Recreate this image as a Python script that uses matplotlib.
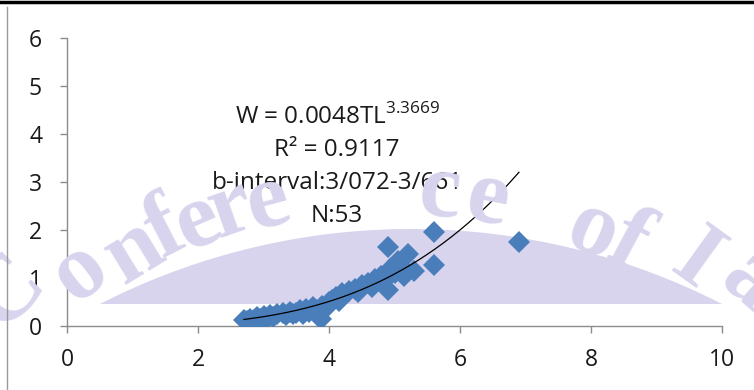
import numpy as np
import matplotlib
matplotlib.use("Agg")
import matplotlib.pyplot as plt
from matplotlib.patches import Polygon
from matplotlib.lines import Line2D

# ---- data ----
tl = [2.70, 2.75, 2.80, 2.85, 2.90, 2.95, 3.00, 3.00, 3.05, 3.10, 3.15, 3.20,
      3.30, 3.35, 3.40, 3.45, 3.50, 3.55, 3.60, 3.65, 3.70, 3.75, 3.80, 3.85,
      3.88, 3.90, 3.95, 4.00, 4.05, 4.10, 4.15, 4.20, 4.30, 4.40, 4.45, 4.50,
      4.60, 4.65, 4.70, 4.80, 4.85, 4.90, 4.90, 4.95, 5.00, 5.05, 5.10, 5.15,
      5.20, 5.30, 5.60, 5.60, 6.90]
w = [0.12, 0.10, 0.15, 0.13, 0.18, 0.14, 0.20, 0.12, 0.17, 0.22, 0.19, 0.25,
     0.27, 0.22, 0.30, 0.24, 0.28, 0.33, 0.26, 0.35, 0.30, 0.40, 0.34, 0.28,
     0.15, 0.42, 0.38, 0.50, 0.55, 0.60, 0.52, 0.68, 0.72, 0.78, 0.70, 0.85,
     0.90, 0.82, 0.98, 1.05, 0.95, 1.65, 0.75, 1.20, 1.10, 1.35, 1.25, 1.05,
     1.50, 1.15, 1.95, 1.28, 1.76]
fit_a = 0.0048
fit_b = 3.3669
fit_range = (2.7, 6.9)
x_ticks = [0, 2, 4, 6, 8, 10]
y_ticks = [0, 1, 2, 3, 4, 5, 6]
ann_lines = ["W = 0.0048TL$^{\\mathregular{3.3669}}$", "R² = 0.9117",
             "b-interval:3/072-3/661", "N:53"]
watermark = "Conference of Ia"

W, H = 754, 390
plt.rcParams['font.family'] = ['Open Sans', 'DejaVu Sans']
plt.rcParams['mathtext.fontset'] = 'custom'
plt.rcParams['mathtext.rm'] = 'Open Sans'

fig = plt.figure(figsize=(W / 100, H / 100), dpi=100)
fig.patch.set_facecolor('white')

def fx(px):
    return px / W

def fy(py):
    return 1 - py / H

ax = fig.add_axes([fx(67), fy(326), fx(722) - fx(67), fy(38) - fy(326)])
ax.set_facecolor('none')

# frame lines of the screenshot
fig.add_artist(Line2D([0, 1], [fy(1.5), fy(1.5)], color='black', lw=2.5,
                      transform=fig.transFigure))
fig.add_artist(Line2D([fx(7), fx(7)], [fy(7), 0], color='#9a9a9a', lw=1.0,
                      transform=fig.transFigure))

# ---- watermark (decorative) ----
wm_col = '#d8d4ee'
cx, half, sag, base = 411, 311, 75, 304
R = (half ** 2 + sag ** 2) / (2 * sag)
xs = np.linspace(cx - half, cx + half, 200)
ys = base - (np.sqrt(R ** 2 - (xs - cx) ** 2) - (R - sag))
pts = [(fx(a), fy(b)) for a, b in zip(xs, ys)]
poly = Polygon(pts, closed=True, facecolor=wm_col, edgecolor='none',
               transform=fig.transFigure, zorder=0.2, clip_on=False)
ax.add_patch(poly)

letter_pos = [(8, 292), (80, 272), (134, 252), (165, 232), (198, 222),
              (231, 210), (268, 203), (None, None), (440, 194), (488, 200),
              (None, None), (592, 232), (628, 244), (None, None),
              (696, 262), (750, 282)]
wcx, wcy = 395, 680
for ch, (px, py) in zip(watermark, letter_pos):
    if ch == ' ' or px is None:
        continue
    ang = -np.degrees(np.arctan2(px - wcx, wcy - py))
    fig.text(fx(px), fy(py), ch, fontsize=68, fontweight='bold',
             family='Liberation Serif', color=wm_col, rotation=ang,
             rotation_mode='anchor', ha='center', va='center', zorder=0.1)

# ---- data marks ----
ax.plot(tl, w, linestyle='none', marker='D', markersize=11.5,
        color='#4a7ebb', markeredgewidth=0, zorder=3)
xf = np.linspace(fit_range[0], fit_range[1], 200)
ax.plot(xf, fit_a * xf ** fit_b, color='black', lw=0.9, zorder=4)

ax.set_xlim(0, 10)
ax.set_ylim(0, 6)
ax.set_xticks(x_ticks)
ax.set_yticks(y_ticks)
for s in ['top', 'right']:
    ax.spines[s].set_visible(False)
for s in ['left', 'bottom']:
    ax.spines[s].set_color('#8c8c8c')
    ax.spines[s].set_linewidth(1.0)
ax.tick_params(axis='both', direction='out', length=5, width=1.0,
               color='#8c8c8c', labelsize=16.5, labelcolor='#1a1a1a')
ax.tick_params(axis='y', pad=13)
ax.tick_params(axis='x', pad=11)

for i, t in enumerate(ann_lines):
    ax.text(fx(337), fy(117 + 33 * i), t, transform=fig.transFigure,
            ha='center', va='center', fontsize=17.5, color='#1a1a1a', zorder=5)

fig.savefig('out.png', dpi=100)
